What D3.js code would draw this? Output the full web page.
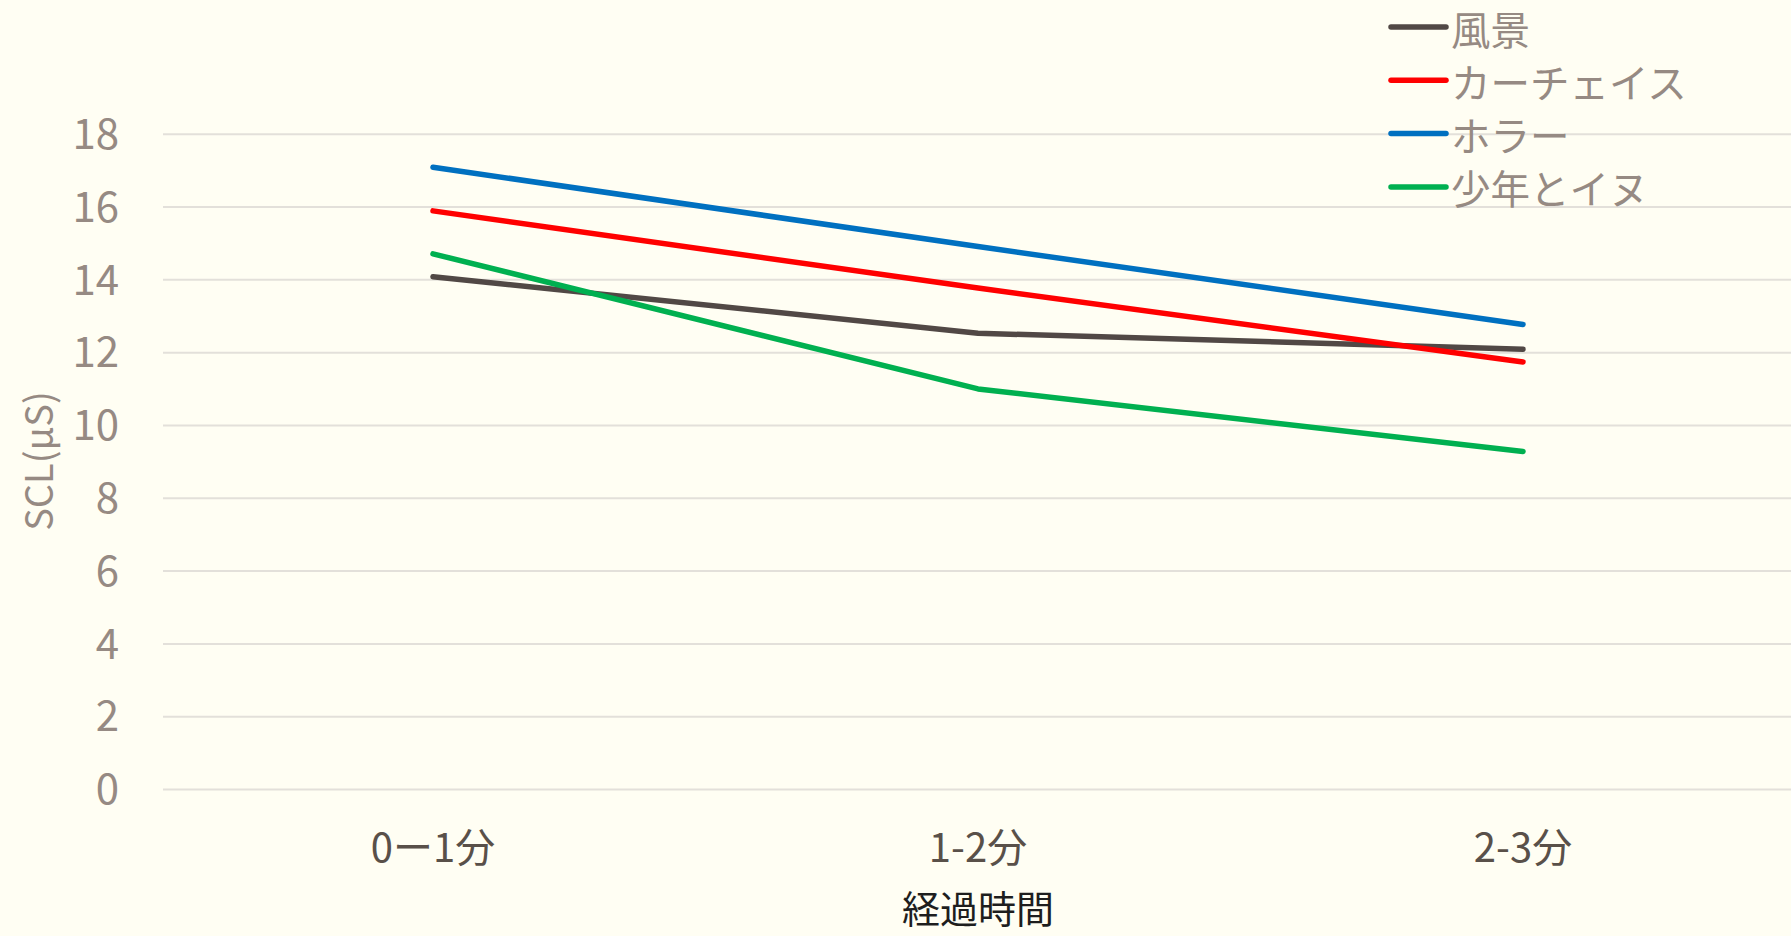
<!DOCTYPE html>
<html>
<head>
<meta charset="utf-8">
<script src="https://cdn.jsdelivr.net/npm/d3@7"></script>
<style>
  html, body { margin: 0; padding: 0; background: #FFFEF3; }
  svg { display: block; }
  text { font-family: "Noto Sans CJK JP", "Noto Sans", sans-serif; }
</style>
</head>
<body>
<svg id="chart" width="1791" height="936"></svg>
<script>
// Elapsed-time buckets on the x axis
const categories = ["0ー1分", "1-2分", "2-3分"];

// Series names (video type) and their SCL readings (μS) per bucket
const seriesNames = ["風景", "カーチェイス", "ホラー", "少年とイヌ"];
const landscape = [14.07, 12.52, 12.08];
const carChase  = [15.88, 13.76, 11.73];
const horror    = [17.08, 14.90, 12.76];
const boyAndDog = [14.70, 10.99, 9.27];

const yTicks = [0, 2, 4, 6, 8, 10, 12, 14, 16, 18];
const yTitle = "SCL(μS)";
const xTitle = "経過時間";

const colors = ["#514845", "#FF0000", "#0070C0", "#00B050"];
const seriesValues = [landscape, carChase, horror, boyAndDog];

const svg = d3.select("#chart");
const W = 1791, H = 936;

svg.append("rect").attr("width", W).attr("height", H).attr("fill", "#FFFEF3");

const x = d3.scaleBand().domain(categories).range([160.5, 1795.5]).paddingInner(0).paddingOuter(0);
const y = d3.scaleLinear().domain([0, 18]).range([789, 133.7]);
const cx = c => x(c) + x.bandwidth() / 2;

// Horizontal gridlines + y tick labels via axis
const yAxis = d3.axisLeft(y).tickValues(yTicks).tickSize(-(W - 163)).tickPadding(44);
const gy = svg.append("g").attr("transform", "translate(163,0)").call(yAxis);
gy.select(".domain").remove();
gy.selectAll(".tick line").attr("stroke", "#E3E0DA").attr("stroke-width", 2);
gy.selectAll(".tick text")
  .attr("fill", "#968A83")
  .attr("font-size", 42)
  .attr("font-family", "'Noto Sans CJK JP', sans-serif")
  .attr("dy", "0.35em");

// X category labels
const xAxis = d3.axisBottom(x).tickSize(0).tickPadding(0);
const gx = svg.append("g").attr("transform", "translate(0,834)").call(xAxis);
gx.select(".domain").remove();
gx.selectAll(".tick text")
  .attr("fill", "#595049")
  .attr("font-size", 40)
  .attr("font-family", "'Noto Sans CJK JP', sans-serif")
  .attr("dy", "0.71em");

// Axis titles
svg.append("text")
  .attr("transform", "translate(36,461) rotate(-90)")
  .attr("text-anchor", "middle")
  .attr("dominant-baseline", "central")
  .attr("fill", "#968A83")
  .attr("font-size", 38)
  .text(yTitle);

svg.append("text")
  .attr("x", 978).attr("y", 906)
  .attr("text-anchor", "middle")
  .attr("dominant-baseline", "central")
  .attr("fill", "#1E1E1E")
  .attr("font-size", 38)
  .text(xTitle);

// Series lines
const line = d3.line().x((d, i) => cx(categories[i])).y(d => y(d));
seriesValues.forEach((vals, i) => {
  svg.append("path")
    .datum(vals)
    .attr("d", line)
    .attr("fill", "none")
    .attr("stroke", colors[i])
    .attr("stroke-width", 5.5)
    .attr("stroke-linecap", "round")
    .attr("stroke-linejoin", "round");
});

// Legend
const legend = svg.append("g");
seriesNames.forEach((name, i) => {
  const ly = 27 + i * 53.3;
  legend.append("line")
    .attr("x1", 1391).attr("x2", 1446)
    .attr("y1", ly).attr("y2", ly)
    .attr("stroke", colors[i])
    .attr("stroke-width", 5.5)
    .attr("stroke-linecap", "round");
  legend.append("text")
    .attr("x", 1451).attr("y", ly)
    .attr("dominant-baseline", "central")
    .attr("fill", "#968A83")
    .attr("font-size", 39.5)
    .text(name);
});
</script>
</body>
</html>
